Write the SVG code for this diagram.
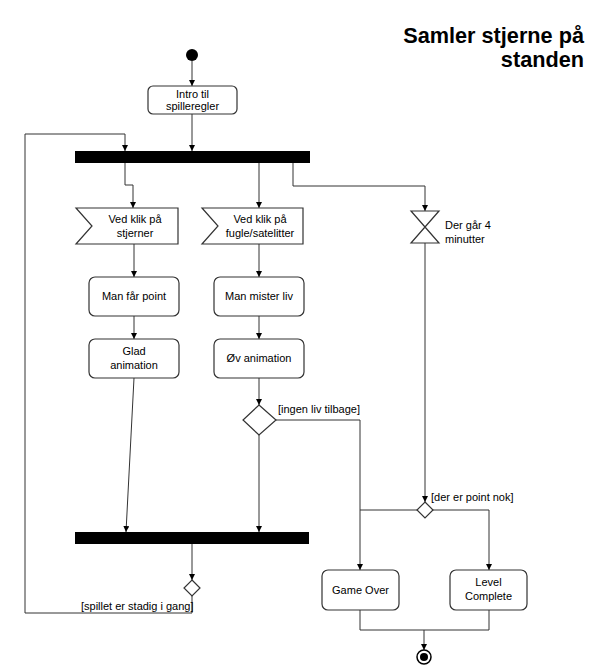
<svg xmlns="http://www.w3.org/2000/svg" width="598" height="667" viewBox="0 0 598 667">
<style>
.n{fill:#fff;stroke:#333;stroke-width:1.2}
.t{font-family:"Liberation Sans",Arial,sans-serif;font-size:11px;fill:#000}
.c{fill:none;stroke:#333;stroke-width:1}
.bar{fill:#000}
.title{font-family:"Liberation Sans",Arial,sans-serif;font-size:21.7px;font-weight:bold;fill:#000}
</style>
<defs>
<marker id="a" viewBox="0 0 6 6" refX="6" refY="3" markerWidth="6" markerHeight="6" orient="auto" markerUnits="userSpaceOnUse">
<path d="M0,0 L6,3 L0,6 z" fill="#000"/>
</marker>
</defs>
<rect width="598" height="667" fill="#fff"/>
<g id="title">
<text class="title" x="584" y="43" text-anchor="end">Samler stjerne på</text>
<text class="title" x="584" y="67" text-anchor="end">standen</text>
</g>
<g id="connectors">
<path class="c" d="M192,61 V86" marker-end="url(#a)"/>
<path class="c" d="M192,114 V151" marker-end="url(#a)"/>
<path class="c" d="M125,163 V185 H133 V208" marker-end="url(#a)"/>
<path class="c" d="M259,163 V208" marker-end="url(#a)"/>
<path class="c" d="M293,163 V186 H425 V211" marker-end="url(#a)"/>
<path class="c" d="M134,244 V277" marker-end="url(#a)"/>
<path class="c" d="M259,244 V277" marker-end="url(#a)"/>
<path class="c" d="M134,316 V339" marker-end="url(#a)"/>
<path class="c" d="M259,316 V339" marker-end="url(#a)"/>
<path class="c" d="M259,378 V405" marker-end="url(#a)"/>
<path class="c" d="M134,378 L126,532" marker-end="url(#a)"/>
<path class="c" d="M259,435 V532" marker-end="url(#a)"/>
<path class="c" d="M276,420 H360 V570" marker-end="url(#a)"/>
<path class="c" d="M425,243 V502" marker-end="url(#a)"/>
<path class="c" d="M417,510 H360"/>
<path class="c" d="M433,510 H489 V570" marker-end="url(#a)"/>
<path class="c" d="M192,544 V580" marker-end="url(#a)"/>
<path class="c" d="M192,596 V613 H25 V134 H125 V151" marker-end="url(#a)"/>
<path class="c" d="M360,610 V630 H489 V610"/>
<path class="c" d="M424,630 V650" marker-end="url(#a)"/>
<text class="t" x="278" y="413">[ingen liv tilbage]</text>
<text class="t" x="431" y="501">[der er point nok]</text>
<text class="t" x="81" y="610">[spillet er stadig i gang]</text>
</g>
<g id="start"><circle cx="192" cy="55" r="6" fill="#000"/></g>
<g id="intro">
<rect class="n" x="148" y="86" width="89" height="28" rx="5"/>
<text class="t" x="192.5" y="98" text-anchor="middle">Intro til</text>
<text class="t" x="192.5" y="110" text-anchor="middle">spilleregler</text>
</g>
<g id="fork"><rect class="bar" x="75" y="151" width="235" height="12"/></g>
<g id="ev1">
<path class="n" d="M76,208 H178 V244 H76 L92,226 Z"/>
<text class="t" x="135" y="223" text-anchor="middle">Ved klik på</text>
<text class="t" x="135" y="237" text-anchor="middle">stjerner</text>
</g>
<g id="ev2">
<path class="n" d="M202,208 H303 V244 H202 L218,226 Z"/>
<text class="t" x="260" y="223" text-anchor="middle">Ved klik på</text>
<text class="t" x="260" y="237" text-anchor="middle">fugle/satelitter</text>
</g>
<g id="timer">
<path class="n" d="M411,211 H439 L411,243 H439 Z"/>
<text class="t" x="445" y="229">Der går 4</text>
<text class="t" x="445" y="243">minutter</text>
</g>
<g id="point">
<rect class="n" x="89" y="277" width="90" height="39" rx="6"/>
<text class="t" x="134" y="300" text-anchor="middle">Man får point</text>
</g>
<g id="liv">
<rect class="n" x="214" y="277" width="90" height="39" rx="6"/>
<text class="t" x="259" y="300" text-anchor="middle">Man mister liv</text>
</g>
<g id="glad">
<rect class="n" x="89" y="339" width="90" height="39" rx="6"/>
<text class="t" x="134" y="355" text-anchor="middle">Glad</text>
<text class="t" x="134" y="369" text-anchor="middle">animation</text>
</g>
<g id="ov">
<rect class="n" x="214" y="339" width="90" height="39" rx="6"/>
<text class="t" x="259" y="362" text-anchor="middle">Øv animation</text>
</g>
<g id="dec1"><path class="n" d="M259,405 L276,420 L259,435 L243,420 Z"/></g>
<g id="dec2"><path class="n" d="M425,502 L433,510 L425,518 L417,510 Z"/></g>
<g id="join"><rect class="bar" x="75" y="532" width="234" height="12"/></g>
<g id="dec3"><path class="n" d="M192,580 L200,588 L192,596 L184,588 Z"/></g>
<g id="gameover">
<rect class="n" x="322" y="570" width="77" height="40" rx="6"/>
<text class="t" x="360.5" y="594" text-anchor="middle">Game Over</text>
</g>
<g id="level">
<rect class="n" x="450" y="570" width="77" height="40" rx="6"/>
<text class="t" x="488.5" y="586" text-anchor="middle">Level</text>
<text class="t" x="488.5" y="600" text-anchor="middle">Complete</text>
</g>
<g id="end">
<circle cx="424" cy="657" r="7" fill="#fff" stroke="#000" stroke-width="1.5"/>
<circle cx="424" cy="657" r="4" fill="#000"/>
</g>
</svg>
